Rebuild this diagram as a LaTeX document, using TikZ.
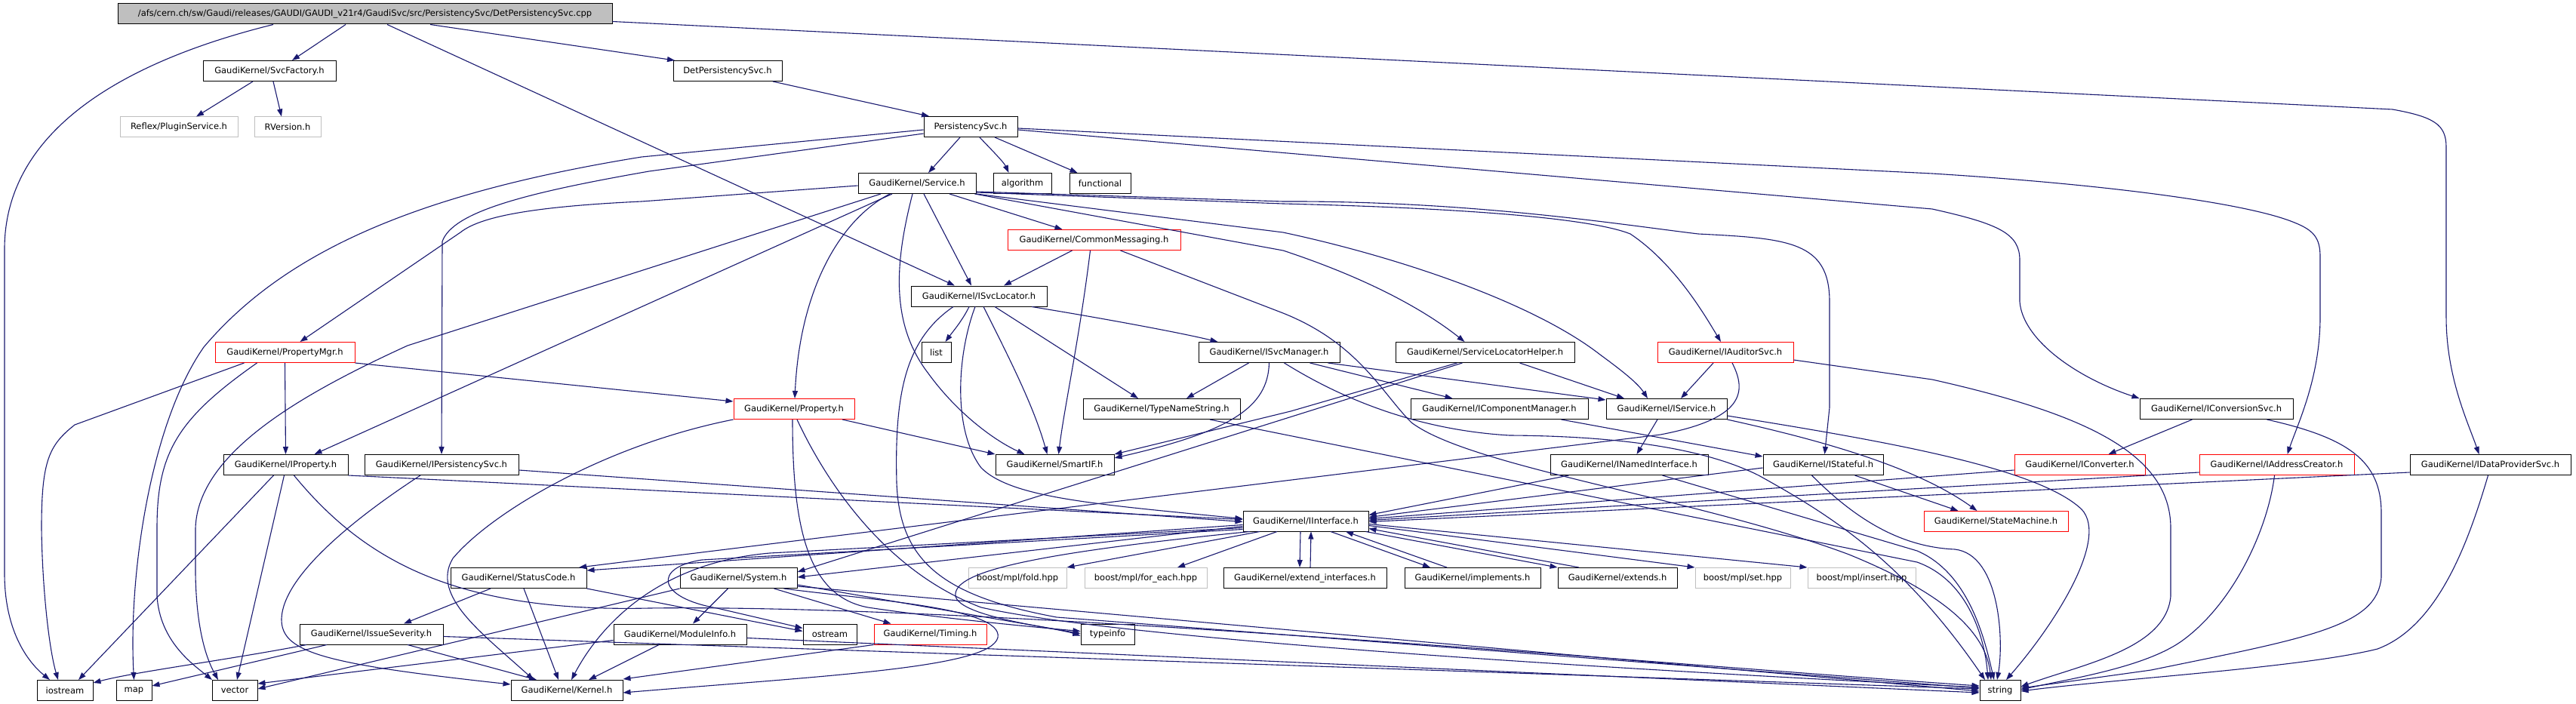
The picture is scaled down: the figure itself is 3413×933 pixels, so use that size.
\documentclass[tikz,border=0pt]{standalone}
\usepackage{fontspec}
\setmainfont{DejaVu Sans}
\usetikzlibrary{arrows.meta}
\definecolor{edgeblue}{RGB}{25,25,112}
\definecolor{hdrgray}{RGB}{191,191,191}
\tikzset{
  hdr/.style={draw=black, line width=1pt, minimum height=27pt, inner sep=0pt,
    font=\fontsize{11.5}{13}\selectfont},
  hdrred/.style={hdr, draw=red},
  hdrext/.style={hdr, draw=hdrgray},
  rootfile/.style={hdr, fill=hdrgray},
  dep/.style={draw=edgeblue, line width=1.1pt, -{Triangle[length=10pt,width=7pt]}}
}
\begin{document}
\begin{tikzpicture}[x=1pt,y=-1pt]
  \fill[white] (0,0) rectangle (3413,933);
  \useasboundingbox (0,0) rectangle (3413,933);
  % headers
  \node[rootfile, minimum width=655pt] (root) at (483.5,18.5) {/afs/cern.ch/sw/Gaudi/releases/GAUDI/GAUDI\_v21r4/GaudiSvc/src/PersistencySvc/DetPersistencySvc.cpp};
  \node[hdr, minimum width=176pt] (svcfac) at (357,94) {GaudiKernel/SvcFactory.h};
  \node[hdrext, minimum width=156pt] (plugin) at (237,168.5) {Reflex/PluginService.h};
  \node[hdrext, minimum width=88pt] (rversion) at (381,168.5) {RVersion.h};
  \node[hdr, minimum width=144pt] (detpers) at (964,94) {DetPersistencySvc.h};
  \node[hdr, minimum width=124pt] (perssvc) at (1286,168) {PersistencySvc.h};
  \node[hdr, minimum width=156pt] (service) at (1215,243) {GaudiKernel/Service.h};
  \node[hdr, minimum width=77pt] (algorithm) at (1354.5,243) {algorithm};
  \node[hdr, minimum width=81pt] (functional) at (1457.5,243) {functional};
  \node[hdrred, minimum width=229pt] (commsg) at (1449.5,318) {GaudiKernel/CommonMessaging.h};
  \node[hdr, minimum width=180pt] (svcloc) at (1297,392.5) {GaudiKernel/ISvcLocator.h};
  \node[hdrred, minimum width=185pt] (propmgr) at (377.5,467) {GaudiKernel/PropertyMgr.h};
  \node[hdr, minimum width=39pt] (list) at (1240.5,467) {list};
  \node[hdr, minimum width=187pt] (svcmgr) at (1681.5,467) {GaudiKernel/ISvcManager.h};
  \node[hdr, minimum width=237pt] (slhelper) at (1967.5,467) {GaudiKernel/ServiceLocatorHelper.h};
  \node[hdrred, minimum width=180pt] (auditor) at (2286,467) {GaudiKernel/IAuditorSvc.h};
  \node[hdrred, minimum width=160pt] (property) at (1052,542) {GaudiKernel/Property.h};
  \node[hdr, minimum width=208pt] (typename) at (1539,542) {GaudiKernel/TypeNameString.h};
  \node[hdr, minimum width=235pt] (compmgr) at (1986.5,542) {GaudiKernel/IComponentManager.h};
  \node[hdr, minimum width=160pt] (iservice) at (2208,542) {GaudiKernel/IService.h};
  \node[hdr, minimum width=203pt] (convsvc) at (2936.5,542) {GaudiKernel/IConversionSvc.h};
  \node[hdr, minimum width=165pt] (iproperty) at (378.5,616) {GaudiKernel/IProperty.h};
  \node[hdr, minimum width=204pt] (ipers) at (585,616) {GaudiKernel/IPersistencySvc.h};
  \node[hdr, minimum width=157pt] (smartif) at (1397.5,616) {GaudiKernel/SmartIF.h};
  \node[hdr, minimum width=209pt] (named) at (2158.5,616) {GaudiKernel/INamedInterface.h};
  \node[hdr, minimum width=159pt] (stateful) at (2415.5,616) {GaudiKernel/IStateful.h};
  \node[hdrred, minimum width=173pt] (converter) at (2755.5,616) {GaudiKernel/IConverter.h};
  \node[hdrred, minimum width=205pt] (addrcre) at (3016.5,616) {GaudiKernel/IAddressCreator.h};
  \node[hdr, minimum width=213pt] (dataprov) at (3299.5,616) {GaudiKernel/IDataProviderSvc.h};
  \node[hdr, minimum width=166pt] (iinterface) at (1730,690.5) {GaudiKernel/IInterface.h};
  \node[hdrred, minimum width=191pt] (statemach) at (2644.5,691) {GaudiKernel/StateMachine.h};
  \node[hdr, minimum width=180pt] (statuscode) at (687,766) {GaudiKernel/StatusCode.h};
  \node[hdr, minimum width=155pt] (system) at (978.5,766) {GaudiKernel/System.h};
  \node[hdrext, minimum width=130pt] (fold) at (1348,766) {boost/mpl/fold.hpp};
  \node[hdrext, minimum width=162pt] (foreach) at (1518,766) {boost/mpl/for\_each.hpp};
  \node[hdr, minimum width=216pt] (extint) at (1729,766) {GaudiKernel/extend\_interfaces.h};
  \node[hdr, minimum width=180pt] (implements) at (1951,766) {GaudiKernel/implements.h};
  \node[hdr, minimum width=158pt] (extends) at (2143,766) {GaudiKernel/extends.h};
  \node[hdrext, minimum width=126pt] (set) at (2309,766) {boost/mpl/set.hpp};
  \node[hdrext, minimum width=143pt] (insert) at (2466.5,766) {boost/mpl/insert.hpp};
  \node[hdr, minimum width=190pt] (issue) at (492,840.5) {GaudiKernel/IssueSeverity.h};
  \node[hdr, minimum width=176pt] (modinfo) at (901,840.5) {GaudiKernel/ModuleInfo.h};
  \node[hdr, minimum width=71pt] (ostream) at (1099.5,840.5) {ostream};
  \node[hdrred, minimum width=149pt] (timing) at (1232.5,840.5) {GaudiKernel/Timing.h};
  \node[hdr, minimum width=71pt] (typeinfo) at (1467.5,840.5) {typeinfo};
  \node[hdr, minimum width=74pt] (iostream) at (86,915) {iostream};
  \node[hdr, minimum width=47pt] (map) at (177.5,915) {map};
  \node[hdr, minimum width=60pt] (vector) at (311,915) {vector};
  \node[hdr, minimum width=148pt] (kernel) at (751,915) {GaudiKernel/Kernel.h};
  \node[hdr, minimum width=54pt] (string) at (2650,915) {string};
  % root file
  \draw[dep] ([xshift=-121.5pt]root.south) .. controls (150,85) and (6,180) .. (6,330) -- (6,760) .. controls (6,840) and (40,880) .. ([xshift=-20pt]iostream.north);
  \draw[dep] ([xshift=-25.5pt]root.south) -- ([xshift=30pt]svcfac.north);
  \draw[dep] ([xshift=29.5pt]root.south) -- ([xshift=-32pt]svcloc.north);
  \draw[dep] ([xshift=86.5pt]root.south) -- ([xshift=-70pt]detpers.north);
  \draw[dep] ([yshift=-10pt]root.east) -- (3170,145) .. controls (3225,155) and (3241,165) .. (3241,195) -- (3241,420) .. controls (3241,500) and (3270,560) .. ([xshift=-15pt]dataprov.north);
  \draw[dep] ([xshift=-22pt]svcfac.south) -- ([xshift=23pt]plugin.north);
  \draw[dep] ([xshift=5pt]svcfac.south) -- ([xshift=-8pt]rversion.north);
  \draw[dep] ([xshift=60pt]detpers.south) -- ([xshift=-55pt]perssvc.north);
  % PersistencySvc.h
  \draw[dep] ([xshift=-14pt]perssvc.south) -- ([xshift=15pt]service.north);
  \draw[dep] ([xshift=12pt]perssvc.south) .. controls (1315,200) and (1330,215) .. ([xshift=-18pt]algorithm.north);
  \draw[dep] ([xshift=32pt]perssvc.south) -- ([xshift=-30pt]functional.north);
  \draw[dep] ([yshift=-4pt]perssvc.west) -- (850,208) .. controls (560,255) and (380,330) .. (270,460) .. controls (200,560) and (170,760) .. (map.north);
  \draw[dep] ([yshift=-9pt]perssvc.west) -- (860,227) .. controls (700,255) and (600,280) .. (586,320) -- (ipers.north);
  \draw[dep] ([yshift=-4pt]perssvc.east) -- (2560,277) .. controls (2650,297) and (2676,310) .. (2676,345) -- (2676,400) .. controls (2680,450) and (2750,500) .. (convsvc.north west);
  \draw[dep] ([yshift=-2pt]perssvc.east) -- (2560,230) .. controls (2800,245) and (2980,270) .. (3040,295) .. controls (3065,305) and (3074,315) .. (3074,340) -- (3074,420) .. controls (3074,500) and (3045,560) .. ([xshift=14pt]addrcre.north);
  % Service.h
  \draw[dep] ([yshift=-3pt]service.west) -- (850,267) .. controls (700,274) and (635,288) .. (610,308) -- ([xshift=20pt]propmgr.north);
  \draw[dep] ([xshift=-48pt]service.south) -- (540,458) .. controls (400,522) and (262,600) .. (259,700) -- (259,760) .. controls (260,830) and (272,870) .. ([xshift=-22pt]vector.north);
  \draw[dep] ([xshift=-33pt]service.south) -- ([xshift=38pt]iproperty.north);
  \draw[dep] ([xshift=-36pt]service.south) .. controls (1115,290) and (1060,380) .. ([xshift=1pt]property.north);
  \draw[dep] ([xshift=-6pt]service.south) .. controls (1185,350) and (1180,430) .. (1230,495) .. controls (1270,550) and (1320,585) .. ([xshift=-40pt]smartif.north);
  \draw[dep] ([xshift=9pt]service.south) -- ([xshift=-10pt]svcloc.north);
  \draw[dep] ([xshift=43pt]service.south) -- ([xshift=-42pt]commsg.north);
  \draw[dep] ([yshift=-11pt]service.east) -- (1700,267) .. controls (1950,266) and (2150,298) .. (2250,310) .. controls (2370,316) and (2424,320) .. (2424,400) -- (2424,540) -- ([xshift=2pt]stateful.north);
  \draw[dep] ([yshift=-12pt]service.east) -- (1700,270) .. controls (1950,276) and (2110,290) .. (2160,310) .. controls (2220,350) and (2260,420) .. ([xshift=-6pt]auditor.north);
  \draw[dep] (service.south east) -- (1700,308) .. controls (1850,340) and (2030,400) .. (2120,470) .. controls (2150,492) and (2170,508) .. ([xshift=-25pt]iservice.north);
  \draw[dep] ([xshift=-2pt]service.south east) -- (1700,332) .. controls (1800,365) and (1880,405) .. ([xshift=-27pt]slhelper.north);
  % ISvcLocator.h
  \draw[dep] ([xshift=-13pt]svcloc.south) .. controls (1275,425) and (1262,440) .. ([xshift=12pt]list.north);
  \draw[dep] ([xshift=70pt]svcloc.south) .. controls (1450,420) and (1560,440) .. ([xshift=-68pt]svcmgr.north);
  \draw[dep] ([xshift=21pt]svcloc.south) -- ([xshift=-31pt]typename.north);
  \draw[dep] ([xshift=6pt]svcloc.south) .. controls (1340,480) and (1370,540) .. ([xshift=-10pt]smartif.north);
  \draw[dep] ([xshift=-5pt]svcloc.south) .. controls (1268,470) and (1262,570) .. (1300,620) .. controls (1340,660) and (1450,668) .. ([yshift=3pt]iinterface.west);
  \draw[dep] ([xshift=-34pt]svcloc.south) .. controls (1200,450) and (1185,520) .. (1188,640) .. controls (1192,745) and (1250,790) .. (1400,818) -- ([yshift=3pt]string.west);
  % CommonMessaging.h
  \draw[dep] ([xshift=-29pt]commsg.south) -- ([xshift=33pt]svcloc.north);
  \draw[dep] ([xshift=-5pt]commsg.south) .. controls (1430,450) and (1410,540) .. ([xshift=5pt]smartif.north);
  \draw[dep] ([xshift=35pt]commsg.south) -- (1700,415) .. controls (1800,455) and (1830,520) .. (1870,560) .. controls (1950,620) and (2250,660) .. (2450,735) .. controls (2560,780) and (2630,830) .. ([xshift=-12pt]string.north);
  % PropertyMgr.h
  \draw[dep] ([xshift=-54pt]propmgr.south) -- (99,563) .. controls (65,590) and (55,610) .. (55,700) .. controls (56,780) and (65,860) .. ([xshift=-9pt]iostream.north);
  \draw[dep] ([xshift=-37pt]propmgr.south) .. controls (235,555) and (208,600) .. (208,700) -- (208,790) .. controls (212,850) and (255,880) .. ([xshift=-30pt]vector.north);
  \draw[dep] (propmgr.south) -- (iproperty.north);
  \draw[dep] (propmgr.south east) -- ([yshift=10pt]property.west);
  % IProperty.h
  \draw[dep] ([xshift=-16pt]iproperty.south) -- ([xshift=18pt]iostream.north);
  \draw[dep] ([xshift=-2pt]iproperty.south) -- ([xshift=3pt]vector.north);
  \draw[dep] ([xshift=11pt]iproperty.south) .. controls (480,740) and (600,812) .. (860,806) .. controls (1300,800) and (2200,880) .. ([yshift=6pt]string.west);
  \draw[dep] (iproperty.south east) -- ([yshift=2pt]iinterface.west);
  % IPersistencySvc.h
  \draw[dep] ([yshift=-7pt]ipers.east) -- ([yshift=-1pt]iinterface.west);
  \draw[dep] ([xshift=-28pt]ipers.south) .. controls (480,680) and (375,760) .. (373,820) .. controls (372,865) and (430,880) .. ([yshift=8pt]kernel.west);
  % StatusCode.h, IssueSeverity.h
  \draw[dep] ([xshift=-37pt]statuscode.south) -- ([xshift=43pt]issue.north);
  \draw[dep] ([xshift=7pt]statuscode.south) -- ([xshift=-11pt]kernel.north);
  \draw[dep] (statuscode.south east) -- ([yshift=4pt]ostream.west);
  \draw[dep] ([xshift=-86pt]issue.south) .. controls (300,875) and (180,890) .. ([yshift=10pt]iostream.east);
  \draw[dep] ([xshift=-59pt]issue.south) -- ([yshift=6pt]map.east);
  \draw[dep] ([xshift=48pt]issue.south) -- ([xshift=-40pt]kernel.north);
  \draw[dep] ([yshift=-3pt]issue.east) -- ([yshift=2pt]string.west);
  % System.h, ModuleInfo.h, Timing.h
  \draw[dep] ([xshift=-14pt]system.south) -- ([xshift=17pt]modinfo.north);
  \draw[dep] ([xshift=47pt]system.south) -- ([xshift=-52pt]timing.north);
  \draw[dep] ([yshift=-9pt]system.east) -- ([yshift=1pt]typeinfo.west);
  \draw[dep] ([yshift=-11pt]system.east) -- ([yshift=-1pt]string.west);
  \draw[dep] (system.south west) -- ([yshift=2pt]vector.east);
  \draw[dep] ([xshift=60pt]system.south) .. controls (1150,795) and (1330,805) .. (1322,845) .. controls (1312,885) and (1100,895) .. ([yshift=-3pt]kernel.east);
  \draw[dep] ([xshift=-28pt]modinfo.south) -- ([xshift=29pt]kernel.north);
  \draw[dep] ([yshift=-8pt]modinfo.west) -- ([yshift=9pt]vector.east);
  \draw[dep] ([yshift=-5pt]modinfo.east) -- ([yshift=-3pt]string.west);
  \draw[dep] (timing.south west) -- ([yshift=15pt]kernel.east);
  % IInterface.h
  \draw[dep] ([yshift=-5pt]iinterface.west) -- ([yshift=10pt]statuscode.east);
  \draw[dep] ([yshift=-7pt]iinterface.west) -- ([yshift=1pt]system.east);
  \draw[dep] ([yshift=-9pt]iinterface.west) -- (1020,733) .. controls (880,745) and (800,820) .. ([xshift=6pt]kernel.north);
  \draw[dep] ([yshift=-11pt]iinterface.west) -- (930,742) .. controls (865,752) and (870,792) .. (950,806) -- ([yshift=8pt]ostream.west);
  \draw[dep] ([xshift=-74pt]iinterface.south) .. controls (1350,735) and (1262,760) .. (1266,790) .. controls (1272,818) and (1400,832) .. ([yshift=-2pt]typeinfo.west);
  \draw[dep] ([xshift=-61pt]iinterface.south) -- (fold.north east);
  \draw[dep] ([xshift=-38pt]iinterface.south) -- ([xshift=42pt]foreach.north);
  \draw[dep] ([xshift=-7pt]iinterface.south) -- ([xshift=-7pt]extint.north);
  \draw[dep] ([xshift=7pt]extint.north) -- ([xshift=7pt]iinterface.south);
  \draw[dep] ([xshift=33pt]iinterface.south) -- ([xshift=-56pt]implements.north);
  \draw[dep] ([xshift=-34pt]implements.north) -- ([xshift=53pt]iinterface.south);
  \draw[dep] ([xshift=-4pt]iinterface.south east) -- (extends.north west);
  \draw[dep] ([xshift=-51pt]extends.north) -- ([yshift=-10pt]iinterface.east);
  \draw[dep] ([yshift=-6pt]iinterface.east) -- (set.north west);
  \draw[dep] ([yshift=-4pt]iinterface.east) -- (insert.north west);
  \draw[dep] ([xshift=-80pt]named.south) -- ([yshift=8pt]iinterface.east);
  \draw[dep] ([yshift=-4pt]stateful.west) -- ([yshift=5pt]iinterface.east);
  \draw[dep] ([yshift=-7pt]converter.west) -- ([yshift=3pt]iinterface.east);
  \draw[dep] ([yshift=-10pt]addrcre.west) -- ([yshift=1pt]iinterface.east);
  \draw[dep] ([yshift=-10pt]dataprov.west) -- ([yshift=-1pt]iinterface.east);
  % IService.h, IStateful.h, INamedInterface.h, IAuditorSvc.h
  \draw[dep] ([xshift=-12pt]iservice.south) -- ([xshift=10pt]named.north);
  \draw[dep] (iservice.south east) .. controls (2420,585) and (2540,620) .. ([xshift=-25pt]statemach.north);
  \draw[dep] ([yshift=-9pt]iservice.east) .. controls (2500,585) and (2700,620) .. (2758,675) .. controls (2795,715) and (2720,830) .. ([xshift=8pt]string.north);
  \draw[dep] ([xshift=42pt]stateful.south) -- ([xshift=-50pt]statemach.north);
  \draw[dep] ([xshift=-15pt]stateful.south) .. controls (2460,690) and (2520,725) .. (2590,728) .. controls (2650,735) and (2655,850) .. ([xshift=-4pt]string.north);
  \draw[dep] ([xshift=44pt]named.south) -- (2540,730) .. controls (2610,760) and (2630,850) .. ([xshift=-8pt]string.north);
  \draw[dep] ([xshift=-16pt]auditor.south) -- ([xshift=19pt]iservice.north);
  \draw[dep] ([yshift=-10pt]auditor.east) -- (2560,503) .. controls (2760,548) and (2876,600) .. (2876,700) -- (2876,790) .. controls (2870,860) and (2760,880) .. ([yshift=5pt]string.east);
  \draw[dep] ([xshift=9pt]auditor.south) .. controls (2315,520) and (2310,555) .. (2200,576) -- ([xshift=80pt]statuscode.north);
  % IConversionSvc.h, IAddressCreator.h, IDataProviderSvc.h
  \draw[dep] ([xshift=-32pt]convsvc.south) -- ([xshift=38pt]converter.north);
  \draw[dep] ([xshift=67pt]convsvc.south) .. controls (3110,580) and (3155,610) .. (3155,680) -- (3155,765) .. controls (3150,830) and (3060,845) .. (2850,888) -- ([yshift=3pt]string.east);
  \draw[dep] ([xshift=-3pt]addrcre.south) .. controls (3005,700) and (2960,800) .. (2890,850) .. controls (2840,885) and (2740,900) .. ([yshift=1pt]string.east);
  \draw[dep] ([xshift=-3pt]dataprov.south) .. controls (3270,720) and (3230,830) .. (3150,860) .. controls (3050,885) and (2800,900) .. ([yshift=-1pt]string.east);
  % ISvcManager.h, TypeNameString.h, ServiceLocatorHelper.h
  \draw[dep] ([xshift=-27pt]svcmgr.south) -- ([xshift=33pt]typename.north);
  \draw[dep] (svcmgr.south) .. controls (1680,540) and (1630,572) .. ([yshift=9pt]smartif.east);
  \draw[dep] ([xshift=54pt]svcmgr.south) -- ([xshift=-62pt]compmgr.north);
  \draw[dep] ([xshift=78pt]svcmgr.south) -- ([yshift=12pt]iservice.west);
  \draw[dep] ([xshift=20pt]svcmgr.south) .. controls (1780,530) and (1880,570) .. (2000,577) .. controls (2150,578) and (2260,595) .. (2330,630) .. controls (2420,680) and (2520,740) .. ([xshift=-20pt]string.north);
  \draw[dep] ([xshift=64pt]typename.south) -- (2540,745) .. controls (2610,770) and (2630,850) .. ([xshift=-16pt]string.north);
  \draw[dep] ([xshift=-37pt]slhelper.south) -- (1710,545) -- (smartif.north east);
  \draw[dep] ([xshift=-30pt]slhelper.south) -- ([yshift=8pt]system.east);
  \draw[dep] ([xshift=46pt]slhelper.south) -- ([xshift=-56pt]iservice.north);
  \draw[dep] ([xshift=82pt]compmgr.south) -- ([yshift=11pt]stateful.west);
  % Property.h
  \draw[dep] ([xshift=64pt]property.south) -- (smartif.north west);
  \draw[dep] (property.south west) .. controls (800,590) and (650,680) .. (600,740) .. controls (570,790) and (640,840) .. ([xshift=-44pt]kernel.north);
  \draw[dep] ([xshift=-2pt]property.south) .. controls (1050,700) and (1070,790) .. (1150,805) .. controls (1250,820) and (1380,832) .. ([yshift=4pt]typeinfo.west);
  \draw[dep] ([xshift=4pt]property.south) .. controls (1100,650) and (1180,760) .. (1300,805) .. controls (1500,850) and (2200,890) .. ([yshift=4pt]string.west);
\end{tikzpicture}
\end{document}
